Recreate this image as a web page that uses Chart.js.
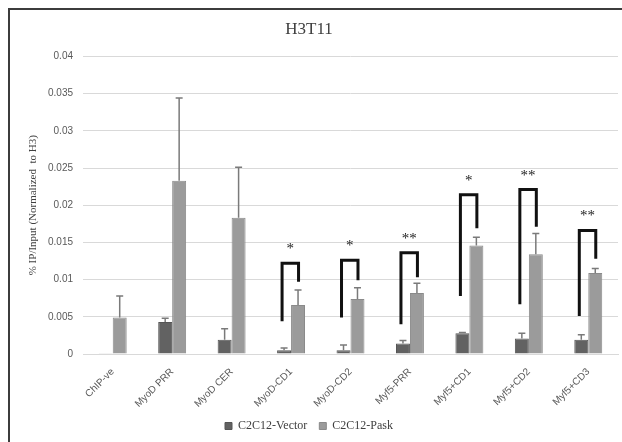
<!DOCTYPE html>
<html>
<head>
<meta charset="utf-8">
<script src="https://cdn.jsdelivr.net/npm/chart.js@4/dist/chart.umd.min.js"></script>
<style>
  html, body { margin: 0; padding: 0; background: #fff; }
  #wrap { width: 622px; height: 442px; position: relative; }
</style>
</head>
<body>
<div id="wrap"><canvas id="c" width="622" height="442"></canvas></div>
<script>
const categories = ['ChIP-ve', 'MyoD PRR', 'MyoD CER', 'MyoD-CD1', 'MyoD-CD2', 'Myf5-PRR', 'Myf5+CD1', 'Myf5+CD2', 'Myf5+CD3'];
const vectorValues = [0.0001, 0.0043, 0.0019, 0.0005, 0.0005, 0.0014, 0.0028, 0.0021, 0.0019];
const vectorErrors = [0, 0.0005, 0.0015, 0.0003, 0.0007, 0.0004, 0.0001, 0.0007, 0.0007];
const paskValues = [0.0049, 0.0233, 0.0183, 0.0066, 0.0074, 0.0082, 0.0146, 0.0134, 0.0109];
const paskErrors = [0.0029, 0.0111, 0.0068, 0.0020, 0.0015, 0.0013, 0.0011, 0.0028, 0.0006];
const yTickLabels = ['0', '0.005', '0.01', '0.015', '0.02', '0.025', '0.03', '0.035', '0.04'];

// significance brackets (vector vs pask) per category
const sigCategories = [3, 4, 5, 6, 7, 8];
const sigTop = [0.0122, 0.0126, 0.0136, 0.0214, 0.0221, 0.0166];
const sigLeftFoot = [0.0044, 0.0049, 0.0040, 0.0078, 0.0067, 0.0051];
const sigRightFoot = [0.0097, 0.0099, 0.0103, 0.0169, 0.0171, 0.0128];
const sigLabels = ['*', '*', '**', '*', '**', '**'];

const errorBarPlugin = {
  id: 'errorBars',
  afterDatasetsDraw(chart) {
    const ctx = chart.ctx;
    const y = chart.scales.y;
    const errs = [vectorErrors, paskErrors];
    ctx.save();
    ctx.strokeStyle = '#7a7a7a';
    ctx.lineWidth = 1.5;
    chart.data.datasets.forEach((ds, di) => {
      const meta = chart.getDatasetMeta(di);
      meta.data.forEach((el, i) => {
        const e = errs[di][i];
        if (!e) return;
        const yTop = y.getPixelForValue(ds.data[i] + e);
        ctx.beginPath();
        ctx.moveTo(el.x, el.y);
        ctx.lineTo(el.x, yTop);
        ctx.moveTo(el.x - 3.5, yTop);
        ctx.lineTo(el.x + 3.5, yTop);
        ctx.stroke();
      });
    });
    ctx.restore();
  }
};

const bracketPlugin = {
  id: 'sigBrackets',
  afterDatasetsDraw(chart) {
    const ctx = chart.ctx;
    const y = chart.scales.y;
    const m0 = chart.getDatasetMeta(0);
    const m1 = chart.getDatasetMeta(1);
    ctx.save();
    ctx.strokeStyle = '#111';
    ctx.lineWidth = 3;
    ctx.lineJoin = 'miter';
    ctx.fillStyle = '#222';
    ctx.font = '15px "Liberation Serif"';
    ctx.textAlign = 'center';
    ctx.textBaseline = 'middle';
    sigCategories.forEach((ci, k) => {
      const xl = m0.data[ci].x - 2;
      const xr = m1.data[ci].x + 0.5;
      const yt = y.getPixelForValue(sigTop[k]);
      ctx.beginPath();
      ctx.moveTo(xl, y.getPixelForValue(sigLeftFoot[k]));
      ctx.lineTo(xl, yt);
      ctx.lineTo(xr, yt);
      ctx.lineTo(xr, y.getPixelForValue(sigRightFoot[k]));
      ctx.stroke();
      ctx.fillText(sigLabels[k], (xl + xr) / 2, yt - 14);
    });
    ctx.restore();
  }
};

const framePlugin = {
  id: 'frame',
  afterDraw(chart) {
    const ctx = chart.ctx;
    ctx.save();
    ctx.strokeStyle = '#3c3c3c';
    ctx.lineWidth = 2;
    ctx.beginPath();
    ctx.moveTo(9, chart.height);
    ctx.lineTo(9, 9);
    ctx.lineTo(chart.width, 9);
    ctx.stroke();
    ctx.restore();
  }
};

new Chart(document.getElementById('c'), {
  type: 'bar',
  data: {
    labels: categories,
    datasets: [
      {
        label: 'C2C12-Vector',
        data: vectorValues,
        backgroundColor: '#626262',
        borderColor: '#555555',
        borderWidth: 1
      },
      {
        label: 'C2C12-Pask',
        data: paskValues,
        backgroundColor: '#9b9b9b',
        borderColor: '#8a8a8a',
        borderWidth: 1
      }
    ]
  },
  options: {
    responsive: false,
    animation: false,
    layout: { padding: { left: 0, right: 4, top: 0, bottom: 0 } },
    datasets: { bar: { categoryPercentage: 0.47, barPercentage: 1 } },
    plugins: {
      title: {
        display: true,
        text: 'H3T11',
        color: '#404040',
        font: { family: '"Liberation Serif"', size: 17, weight: 'normal' },
        padding: { top: 19, bottom: 17 }
      },
      legend: {
        position: 'bottom',
        labels: {
          boxWidth: 7,
          boxHeight: 7,
          padding: 12,
          color: '#404040',
          font: { family: '"Liberation Serif"', size: 12 }
        }
      },
      tooltip: { enabled: false }
    },
    scales: {
      x: {
        grid: { display: false, drawTicks: false },
        border: { display: true, color: '#d9d9d9', width: 1 },
        ticks: {
          minRotation: 45,
          maxRotation: 45,
          padding: 12,
          color: '#595959',
          font: { family: '"Liberation Sans"', size: 10 }
        },
        afterFit(scale) { scale.height = 54; }
      },
      y: {
        min: 0,
        max: 0.04,
        border: { display: false },
        grid: { color: '#d9d9d9', lineWidth: 1, drawTicks: false },
        ticks: {
          stepSize: 0.005,
          padding: 10,
          color: '#595959',
          font: { family: '"Liberation Sans"', size: 10 },
          callback: (v, i) => yTickLabels[i]
        },
        title: {
          display: true,
          text: '% IP/Input (Normalized  to H3)',
          color: '#404040',
          font: { family: '"Liberation Serif"', size: 11 },
          padding: { top: 27, bottom: 0 }
        },
        afterFit(scale) { scale.width = 83; }
      }
    }
  },
  plugins: [errorBarPlugin, bracketPlugin, framePlugin]
});
</script>
</body>
</html>
